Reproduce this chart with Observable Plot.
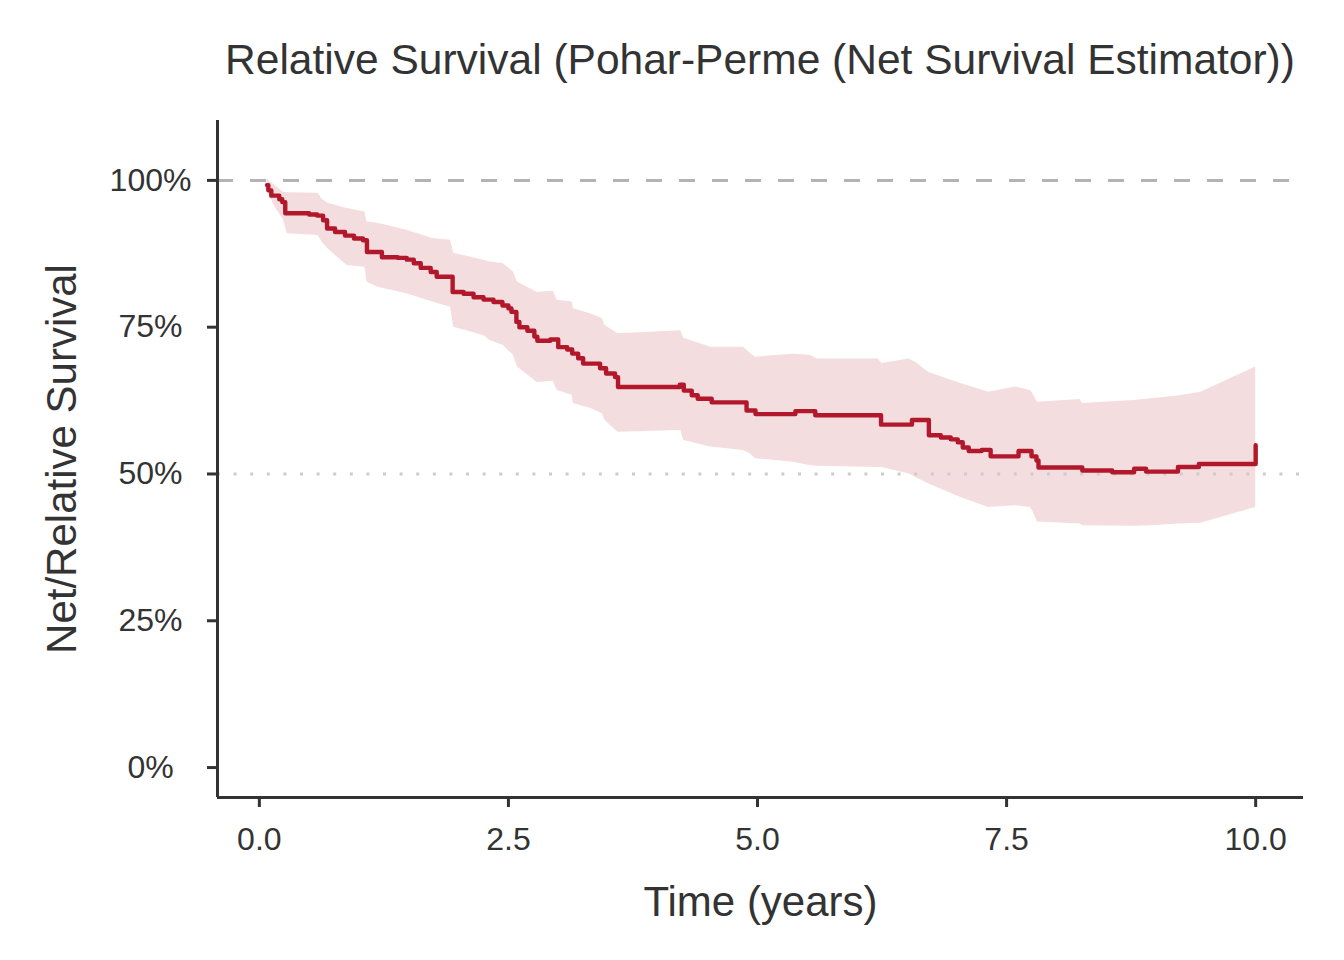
<!DOCTYPE html>
<html>
<head>
<meta charset="utf-8">
<script src="https://cdn.jsdelivr.net/npm/d3@7"></script>
<script src="https://cdn.jsdelivr.net/npm/@observablehq/plot@0.6"></script>
<style>
  html, body { margin: 0; padding: 0; background: #ffffff; }
  #wrap { position: relative; width: 1344px; height: 960px; overflow: hidden; font-family: "Liberation Sans", Arial, sans-serif; }
  #title { position: absolute; left: 160px; width: 1200px; top: 39px; height: 50px; text-align: center;
           font-size: 42.5px; line-height: 42px; color: #333333; white-space: nowrap; }
  #chart { position: absolute; left: 0; top: 100px; }
</style>
</head>
<body>
<div id="wrap">
  <div id="title">Relative Survival (Pohar-Perme (Net Survival Estimator))</div>
  <div id="chart"></div>
</div>
<script>
// Net survival point estimate (step function), time in years, survival in %
const lineTime = [0.077,0.09,0.12,0.20,0.23,0.26,0.50,0.58,0.64,0.68,0.76,0.86,0.95,1.04,1.08,1.23,1.39,1.48,1.55,1.62,1.72,1.78,1.94,2.05,2.15,2.25,2.35,2.44,2.50,2.53,2.58,2.61,2.69,2.76,2.79,2.92,3.00,3.09,3.14,3.20,3.25,3.42,3.48,3.57,3.60,4.22,4.26,4.34,4.40,4.54,4.89,4.98,5.38,5.58,6.24,6.55,6.72,6.84,6.94,7.01,7.06,7.12,7.25,7.34,7.62,7.75,7.80,7.82,8.26,8.56,8.78,8.90,9.22,9.43,10.0];
const lineSurv = [99.2,98.3,97.4,96.8,96.3,94.4,94.2,94.0,93.2,91.8,91.2,90.6,90.1,89.8,87.8,86.9,86.8,86.5,85.9,85.1,84.4,83.6,81.0,80.7,80.1,79.7,79.3,78.7,78.2,77.6,75.9,75.0,74.4,73.4,72.7,72.9,71.6,71.2,70.5,69.7,68.8,68.0,67.1,66.5,64.8,65.2,64.2,63.4,62.8,62.2,60.8,60.2,60.7,60.0,58.4,59.2,56.6,56.2,55.9,55.4,54.5,53.9,54.1,53.0,53.9,53.0,52.3,51.1,50.6,50.3,50.9,50.4,51.2,51.7,54.9];

// Confidence band
const bandTime  = [0.077,0.16,0.24,0.28,0.59,0.63,0.69,0.88,1.06,1.08,1.19,1.48,1.74,1.92,1.95,2.25,2.32,2.45,2.55,2.59,2.79,2.95,2.99,3.14,3.15,3.32,3.44,3.47,3.60,4.23,4.26,4.53,4.86,4.93,4.98,5.36,5.53,5.60,6.21,6.25,6.52,6.59,6.72,7.04,7.32,7.59,7.74,7.76,7.81,8.24,8.26,8.78,8.95,9.22,9.45,10.0];
const bandUpper = [100.2,99.1,98.0,97.9,97.8,96.8,96.1,95.2,94.6,92.9,92.7,91.5,90.1,89.8,87.6,86.4,86.1,85.8,84.4,82.7,80.9,81.1,79.6,79.3,78.2,77.3,76.5,75.3,73.9,74.4,73.1,71.6,71.6,70.5,69.9,70.4,70.2,69.6,69.6,68.8,69.6,69.0,67.3,65.4,63.9,64.8,64.2,63.8,62.2,62.7,62.0,62.5,62.8,63.3,63.9,68.2];
const bandLower = [98.3,95.4,93.4,90.9,90.6,89.5,88.3,85.5,85.2,82.7,81.8,80.7,79.3,78.4,75.0,73.6,72.7,71.9,70.2,68.2,65.6,65.8,64.2,63.4,62.0,61.2,60.3,59.1,57.1,57.4,55.7,54.6,54.0,53.4,52.6,52.0,51.4,51.3,51.1,51.1,50.0,49.4,48.3,46.0,44.3,44.6,44.3,43.8,41.8,41.5,41.2,41.1,41.2,41.5,41.6,44.3];

const xTicks = [0, 2.5, 5, 7.5, 10];
const yTicks = [0, 25, 50, 75, 100];
const refLines = { dashed: 100, dotted: 50 };

const line = lineTime.map((t, i) => ({ t, s: lineSurv[i] }));
const band = bandTime.map((t, i) => ({ t, hi: bandUpper[i], lo: bandLower[i] }));

const xDomain = [-0.42, 10.48];
const yDomain = [-5.1, 110.2];
const ink = "#333333";
const red = "#B2182B";

const chart = Plot.plot({
  width: 1344,
  height: 860,
  marginLeft: 217,
  marginRight: 41,
  marginTop: 20,
  marginBottom: 163,
  x: { domain: xDomain },
  y: { domain: yDomain },
  style: { fontFamily: "Liberation Sans, Arial, sans-serif", color: ink, background: "white", overflow: "visible" },
  marks: [
    Plot.areaY(band, { x: "t", y1: "lo", y2: "hi", fill: red, fillOpacity: 0.15 }),
    Plot.ruleY([refLines.dashed], { stroke: "#b3b3b3", strokeWidth: 3, strokeDasharray: "16,17" }),
    Plot.ruleY([refLines.dotted], { stroke: "#cccccc", strokeWidth: 3, strokeDasharray: "3,13.6" }),
    Plot.line(line, { x: "t", y: "s", curve: "step-after", stroke: red, strokeWidth: 4.4 }),
    Plot.ruleX([xDomain[0]], { stroke: ink, strokeWidth: 3 }),
    Plot.ruleY([yDomain[0]], { stroke: ink, strokeWidth: 3 }),
    Plot.axisX(xTicks, { tickSize: 10, tickPadding: 20, tickFormat: d => d.toFixed(1), fontSize: 32, strokeWidth: 3, stroke: ink, label: null }),
    Plot.axisY(yTicks, { tickSize: 10, tickPadding: 57, textAnchor: "middle", tickFormat: d => d + "%", fontSize: 32, strokeWidth: 3, stroke: ink, label: null }),
    Plot.text(["Time (years)"], { frameAnchor: "bottom", lineAnchor: "bottom", dy: 118, fontSize: 42, fill: ink }),
    Plot.text(["Net/Relative Survival"], { frameAnchor: "left", textAnchor: "middle", lineAnchor: "bottom", rotate: -90, dx: -142, fontSize: 42, fill: ink })
  ]
});
document.getElementById("chart").appendChild(chart);
</script>
</body>
</html>
